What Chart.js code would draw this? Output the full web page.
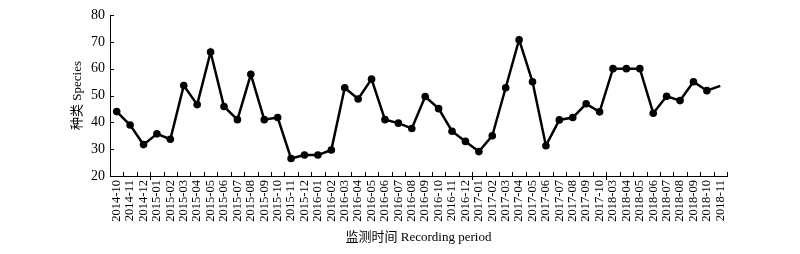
<!DOCTYPE html>
<html>
<head>
<meta charset="utf-8">
<script src="https://cdn.jsdelivr.net/npm/chart.js@4/dist/chart.umd.min.js"></script>
<style>
html,body{margin:0;padding:0;background:#fff;}
#wrap{width:800px;height:254px;}
</style>
</head>
<body>
<div id="wrap"><canvas id="c" width="800" height="254"></canvas></div>
<script>
const categories = ["2014-10","2014-11","2014-12","2015-01","2015-02","2015-03","2015-04","2015-05","2015-06","2015-07","2015-08","2015-09","2015-10","2015-11","2015-12","2016-01","2016-02","2016-03","2016-04","2016-05","2016-06","2016-07","2016-08","2016-09","2016-10","2016-11","2016-12","2017-01","2017-02","2017-03","2017-04","2017-05","2017-06","2017-07","2017-08","2017-09","2017-10","2018-03","2018-04","2018-05","2018-06","2018-07","2018-08","2018-09","2018-10","2018-11"];
const species = [44,39,31.7,35.7,33.7,53.7,46.6,66.2,45.9,41,57.9,41,41.8,26.5,27.8,27.8,29.7,52.9,48.7,56.1,41,39.7,37.7,49.6,45.1,36.7,32.9,29.1,35,52.9,70.8,55.1,31.3,40.9,41.8,46.9,43.9,60,60,60,43.4,49.7,48.1,55.1,51.8,53.6];
const yTicks = [20,30,40,50,60,70,80];
const breakAfter = [2,26,36];

const SERIF = "'Liberation Serif','Times New Roman','Noto Sans CJK SC',serif";

const tickPlugin = {
  id:'inwardTicks',
  afterDraw(chart){
    const ctx = chart.ctx, x = chart.scales.x, y = chart.scales.y;
    ctx.save();
    ctx.strokeStyle = '#000'; ctx.lineWidth = 1;
    ctx.beginPath();
    const n = categories.length;
    const step = x.getPixelForValue(1) - x.getPixelForValue(0);
    for(let i=0;i<=n;i++){
      const px = Math.round(x.getPixelForValue(i) - step/2) + 0.5;
      ctx.moveTo(px, y.bottom); ctx.lineTo(px, y.bottom-4);
    }
    breakAfter.forEach(i=>{
      const px = Math.round(x.getPixelForValue(i) + step/2) + 0.5;
      ctx.moveTo(px, y.bottom+1); ctx.lineTo(px, y.bottom+4);
    });
    yTicks.forEach(v=>{
      const py = Math.round(y.getPixelForValue(v)) + 0.5;
      ctx.moveTo(x.left, py); ctx.lineTo(x.left+4, py);
    });
    ctx.stroke();
    ctx.restore();
  }
};

new Chart(document.getElementById('c'), {
  type:'line',
  data:{
    labels: categories,
    datasets:[{
      data: species,
      borderColor:'#000',
      backgroundColor:'#000',
      borderWidth:2.5,
      pointRadius: species.map((v,i)=> i===species.length-1 ? 0 : 3.8),
      pointBackgroundColor:'#000',
      pointBorderWidth:0,
      tension:0,
      fill:false
    }]
  },
  options:{
    responsive:false,
    animation:false,
    devicePixelRatio:1,
    layout:{padding:{left:66,right:73,top:15,bottom:5}},
    plugins:{legend:{display:false},tooltip:{enabled:false}},
    scales:{
      x:{
        offset:true,
        grid:{display:false, drawTicks:false},
        border:{display:true,color:'#000',width:1},
        ticks:{autoSkip:false,maxRotation:90,minRotation:90,padding:4,color:'#000',font:{family:SERIF,size:12.5}},
        title:{display:true,text:'监测时间 Recording period',color:'#000',font:{family:SERIF,size:13},padding:{top:2,bottom:4}},
        afterFit(s){ s.height = 73; }
      },
      y:{
        min:20,max:80,
        afterBuildTicks(s){ s.ticks = yTicks.map(v=>({value:v})); },
        grid:{display:false, drawTicks:false},
        border:{display:true,color:'#000',width:1},
        ticks:{padding:5,color:'#000',font:{family:SERIF,size:14}},
        title:{display:true,text:'种类 Species',color:'#000',font:{family:SERIF,size:13},padding:{top:4,bottom:4}},
        afterFit(s){ s.width = 44; }
      }
    }
  },
  plugins:[tickPlugin]
});
</script>
</body>
</html>
